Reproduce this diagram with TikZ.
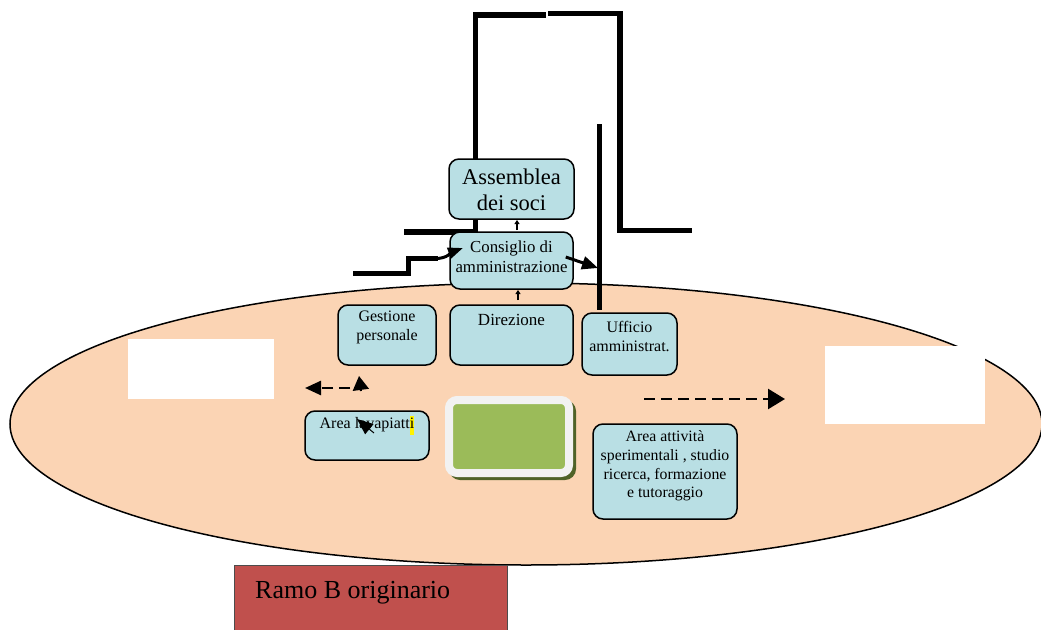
\documentclass[tikz,border=0pt]{standalone}
\usepackage{fontspec}
\setmainfont{Liberation Serif}
\usetikzlibrary{arrows.meta}
\definecolor{peach}{HTML}{FBD4B4}
\definecolor{boxblue}{HTML}{B9DFE4}
\definecolor{ramored}{HTML}{C0504D}
\definecolor{ogreen}{HTML}{9BBB59}
\definecolor{oshadow}{HTML}{4F6228}
\definecolor{framegray}{HTML}{F2F2F2}
\begin{document}
\begin{tikzpicture}[x=1pt,y=-1pt,
  bluebox/.style={draw=black, line width=1.5pt, fill=boxblue, rounded corners=10pt, inner sep=0pt},
  txt/.style={align=center, inner sep=0pt, text=black},
  fsixteen/.style={font=\fontsize{16}{19}\selectfont},
  frameline/.style={line width=5.5pt, line join=miter},
  dasharrow/.style={line width=2.5pt, dash pattern=on 11pt off 6pt},
  headarrow/.style={line width=2pt}
]
\useasboundingbox (0,0) rectangle (1041,629);

% oval background
\draw[fill=peach, line width=1.5pt] (526,424) ellipse [x radius=516pt, y radius=141pt];
\fill[white] (128,339) rectangle (274,399);
\fill[white] (825,346) rectangle (985,424);

% red box
\node[draw=black!70, line width=1.2pt, fill=ramored, minimum width=273pt, minimum height=80pt, anchor=north west, inner sep=0pt] (ramo) at (234,565) {};
\node[txt, anchor=west, font=\fontsize{26}{30}\selectfont] (ramotxt) at (255,593) {Ramo B originario};

% thick frame lines
\draw[frameline] (404,232) -- (475.5,232) -- (475.5,15) -- (546,15);
\draw[frameline] (548,13.5) -- (620,13.5) -- (620,230.5) -- (692,230.5);
\draw[line width=5pt] (599.5,124) -- (599.5,310);

% small ticks between boxes
\coordinate (t1a) at (517,230);
\coordinate (t1b) at (517,220);
\coordinate (t2a) at (518,300);
\coordinate (t2b) at (518,290);
\draw[line width=2pt, -{Triangle[length=4pt,width=5pt]}] (t1a) -- (t1b);
\draw[line width=2pt, -{Triangle[length=4pt,width=5pt]}] (t2a) -- (t2b);

% blue boxes
\node[bluebox, minimum width=125pt, minimum height=60pt] (asm) at (511.5,189) {};
\node[txt, font=\fontsize{22.5}{26}\selectfont] (asmtxt) at (511.5,190) {Assemblea\\dei soci};

\node[bluebox, minimum width=123pt, minimum height=57pt] (cda) at (511.5,260.5) {};
\node[txt, font=\fontsize{16.8}{20}\selectfont] (cdatxt) at (511.5,257) {Consiglio di\\amministrazione};

\node[bluebox, minimum width=98pt, minimum height=60pt] (gp) at (387,335) {};
\node[txt, fsixteen] (gptxt) at (387,327) {Gestione\\personale};

\node[bluebox, minimum width=123pt, minimum height=60pt] (dir) at (511.5,335) {};
\node[txt, font=\fontsize{17}{20}\selectfont] (dirtxt) at (511.5,320) {Direzione};

\node[bluebox, minimum width=95pt, minimum height=62pt] (uff) at (629.5,344) {};
\node[txt, fsixteen] (ufftxt) at (629.5,336) {Ufficio\\amministrat.};

\node[bluebox, minimum width=124pt, minimum height=49pt] (lav) at (367,435.5) {};
\node[txt, fsixteen] (lavtxt) at (367,425) {Area lavapiatt{\setlength\fboxsep{0pt}\colorbox{yellow}{\strut i}}};

\node[bluebox, minimum width=144pt, minimum height=95pt] (aaa) at (665,471.5) {};
\node[txt, font=\fontsize{15.8}{18.7}\selectfont] (aaatxt) at (665,466) {Area attività\\sperimentali , studio\\ricerca, formazione\\e tutoraggio};

% green box with frame and shadow
\fill[oshadow, rounded corners=11pt] (449,400) rectangle (576,480);
\node[draw=framegray, line width=8pt, fill=ogreen, rounded corners=8pt, minimum width=120pt, minimum height=73pt, inner sep=0pt] (green) at (509,436.5) {};

% arrows
\coordinate (s0) at (353,273);
\coordinate (s1) at (408.5,273);
\coordinate (s2) at (408.5,258.5);
\coordinate (s3) at (438,258.5);
\coordinate (s4) at (463,248);
\draw[line width=5pt, line join=miter] (s0) -- (s1) -- (s2) -- (s3);
\draw[line width=3pt, -{Triangle[length=15pt,width=11pt]}] ([xshift=-2pt]s3) to[out=0,in=200] (s4);

\coordinate (vl) at (598,268);
\draw[line width=3pt, -{Triangle[length=16pt,width=13pt]}] ([xshift=-8pt,yshift=3.5pt]cda.east) -- (vl);

\coordinate (dl0) at (350,388);
\coordinate (dl1) at (305,388);
\draw[dasharrow, -{Triangle[length=16pt,width=14pt]}] (dl0) -- (dl1);
\coordinate (ua0) at (361,391);
\coordinate (ua1) at (359,376);
\draw[headarrow, -{Triangle[length=14pt,width=16pt]}] (ua0) -- (ua1);

\coordinate (la0) at (374,433);
\coordinate (la1) at (357,419);
\draw[line width=1pt, -{Triangle[length=16pt,width=13pt]}] (la0) -- (la1);

\coordinate (dr0) at (644,399);
\coordinate (dr1) at (785,399);
\draw[dasharrow, -{Triangle[length=17pt,width=20pt]}] (dr0) -- (dr1);
\end{tikzpicture}
\end{document}
